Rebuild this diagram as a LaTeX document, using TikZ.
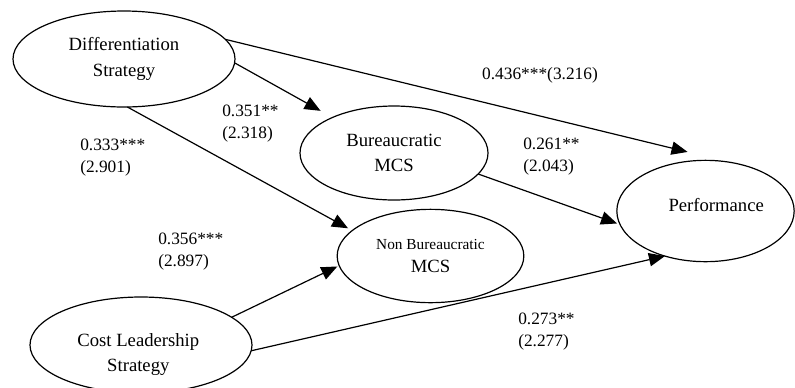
\documentclass[tikz,border=0pt]{standalone}
\usepackage{fontspec}
\setmainfont{Liberation Serif}
\usetikzlibrary{arrows.meta,shapes.geometric}
\begin{document}
\begin{tikzpicture}[x=0.75pt, y=-0.75pt,
    var/.style={ellipse, draw, line width=0.9pt, inner sep=0pt, outer sep=0pt, align=center, font=\fontsize{14}{19}\selectfont},
    effect/.style={-{Triangle[length=12pt,width=10pt]}, line width=0.9pt},
    coef/.style={anchor=west, align=left, inner sep=0pt, font=\fontsize{13}{16.5}\selectfont}]
    \useasboundingbox (0,0) rectangle (795,387);
    \clip (0,0) rectangle (795,387);
    % constructs
    \node[var, minimum width=166.5pt, minimum height=72pt] (diff) at (124,59) {Differentiation\\Strategy};
    \node[var, minimum width=141pt, minimum height=70.5pt] (bur) at (394,153) {Bureaucratic\\MCS};
    \node[var, minimum width=140pt, minimum height=70pt] (nonbur) at (430.5,256) {{\fontsize{11.5}{14}\selectfont Non Bureaucratic}\\[-1.5pt]MCS};
    \node[var, minimum width=133pt, minimum height=76pt,
        label={[font=\fontsize{14}{19}\selectfont, xshift=8pt, yshift=4.5pt]center:Performance}] (perf) at (705.5,211) {};
    \node[var, minimum width=166.5pt, minimum height=72pt,
        label={[align=center, font=\fontsize{14}{19}\selectfont, xshift=-2pt, yshift=-7pt]center:{Cost Leadership\\Strategy}}] (cost) at (141,345) {};
    % paths
    \draw[effect, shorten >=10.2pt] (diff.-2) -- (bur.150.4);
    \draw[effect, shorten >=33pt] (diff.11) -- (perf.63.2);
    \draw[effect, shorten >=3.6pt] (diff.-86.3) -- (nonbur.162.7);
    \draw[effect, shorten >=2.4pt] (bur.-14.6) -- (perf.-171.4);
    \draw[effect, shorten >=1.5pt] (cost.17.5) -- (nonbur.-174.3);
    \draw[effect] (cost.-3.6) -- (perf.-132.3);
    % coefficients
    \node[coef, anchor=center] (b1) at (540,75) {0.436***(3.216)};
    \node[coef] (b2) at (222,124) {0.351**\\(2.318)};
    \node[coef] (b3) at (80,158) {0.333***\\(2.901)};
    \node[coef] (b4) at (523,157) {0.261**\\(2.043)};
    \node[coef] (b5) at (158,251.5) {0.356***\\(2.897)};
    \node[coef] (b6) at (518,332) {0.273**\\(2.277)};
\end{tikzpicture}
\end{document}
